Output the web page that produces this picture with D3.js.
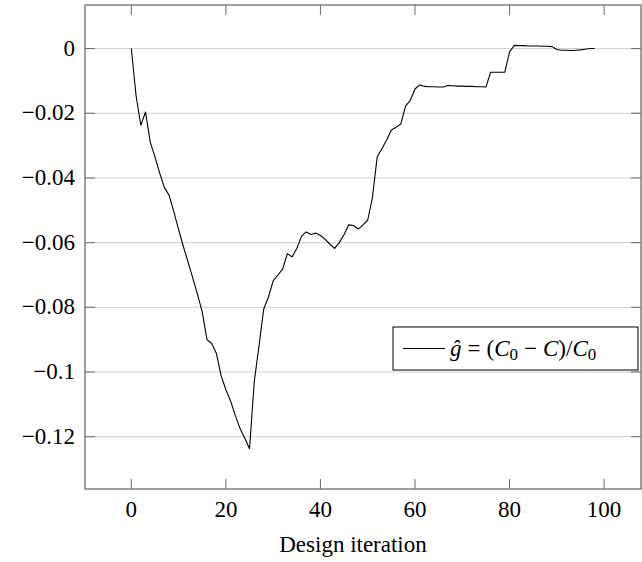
<!DOCTYPE html>
<html>
<head>
<meta charset="utf-8">
<script src="https://cdn.jsdelivr.net/npm/d3@7"></script>
<style>
  html, body { margin: 0; padding: 0; background: #fff; }
  svg { display: block; }
</style>
</head>
<body>
<svg id="chart" width="642" height="562" font-family="'Liberation Serif', 'DejaVu Serif', serif"></svg>
<script>
// ---- data ----
const iterations = d3.range(0, 99);
const gHat = [
  0, -0.0145, -0.0237, -0.0196, -0.0289, -0.0335, -0.0385, -0.0430, -0.0454, -0.0505,
  -0.0560, -0.0612, -0.0660, -0.0710, -0.0760, -0.0815, -0.0900, -0.0912, -0.0943, -0.1012,
  -0.1055, -0.1090, -0.1135, -0.1175, -0.1205, -0.1237, -0.1030, -0.0920, -0.0805, -0.0768,
  -0.0718, -0.0700, -0.0682, -0.0634, -0.0644, -0.0618, -0.0580, -0.0567, -0.0575, -0.0570,
  -0.0578, -0.0590, -0.0605, -0.0618, -0.0600, -0.0575, -0.0545, -0.0547, -0.0558, -0.0545,
  -0.0530, -0.0460, -0.0335, -0.0310, -0.0283, -0.0252, -0.0243, -0.0233, -0.0178, -0.0160,
  -0.0125, -0.0112, -0.0117, -0.0118, -0.0118, -0.0119, -0.0119, -0.0114, -0.0115, -0.0116,
  -0.0116, -0.0117, -0.0117, -0.0118, -0.0118, -0.0119, -0.0073, -0.0073, -0.0073, -0.0073,
  -0.0010, 0.0010, 0.0009, 0.0009, 0.0008, 0.0008, 0.0008, 0.0007, 0.0007, 0.0006,
  -0.0003, -0.0005, -0.0005, -0.0006, -0.0005, -0.0004, -0.0002, 0.0000, 0.0000
];
const xTicks = [0, 20, 40, 60, 80, 100];
const yTicks = [0, -0.02, -0.04, -0.06, -0.08, -0.1, -0.12];
const yTickLabels = ["0", "\u22120.02", "\u22120.04", "\u22120.06", "\u22120.08", "\u22120.1", "\u22120.12"];
const xLabel = "Design iteration";

// ---- layout ----
const L = 85, R = 641, T = 5, B = 489;
const svg = d3.select("#chart");

const xMin = d3.min(iterations), xMax = d3.max(iterations);
const xPad = (xMax - xMin) * 0.1;
const yMin = d3.min(gHat), yMax = d3.max(gHat);
const yPad = (yMax - yMin) * 0.1;

const x = d3.scaleLinear().domain([xMin - xPad, xMax + xPad]).range([L, R]);
const y = d3.scaleLinear().domain([yMin - yPad, yMax + yPad]).range([B, T]);

const tickLen = 10;
const axisColor = "#6b6b6b";

// grid
svg.append("g").selectAll("line").data(yTicks).join("line")
  .attr("x1", L).attr("x2", R)
  .attr("y1", d => y(d)).attr("y2", d => y(d))
  .attr("stroke", "#cfcfcf").attr("stroke-width", 1);

// ticks (inside, on all four sides)
const tg = svg.append("g").attr("stroke", axisColor).attr("stroke-width", 1);
xTicks.forEach(t => {
  tg.append("line").attr("x1", x(t)).attr("x2", x(t)).attr("y1", B).attr("y2", B - tickLen);
  tg.append("line").attr("x1", x(t)).attr("x2", x(t)).attr("y1", T).attr("y2", T + tickLen);
});
yTicks.forEach(t => {
  tg.append("line").attr("x1", L).attr("x2", L + tickLen).attr("y1", y(t)).attr("y2", y(t));
  tg.append("line").attr("x1", R).attr("x2", R - tickLen).attr("y1", y(t)).attr("y2", y(t));
});

// data line
const line = d3.line().x((d, i) => x(iterations[i])).y(d => y(d));
svg.append("path").datum(gHat)
  .attr("d", line).attr("fill", "none")
  .attr("stroke", "#000").attr("stroke-width", 1.1).attr("stroke-linejoin", "round");

// frame
svg.append("rect").attr("x", L).attr("y", T).attr("width", R - L).attr("height", B - T)
  .attr("fill", "none").attr("stroke", axisColor).attr("stroke-width", 1.3);

// tick labels
const fs = 23;
svg.append("g").selectAll("text").data(xTicks).join("text")
  .attr("x", d => x(d)).attr("y", B + 28)
  .attr("text-anchor", "middle").attr("font-size", fs)
  .text(d => d);
svg.append("g").selectAll("text").data(yTicks).join("text")
  .attr("x", L - 10).attr("y", d => y(d) + 7)
  .attr("text-anchor", "end").attr("font-size", fs)
  .text((d, i) => yTickLabels[i]);

// axis label
svg.append("text").attr("x", (L + R) / 2 - 10).attr("y", B + 63)
  .attr("text-anchor", "middle").attr("font-size", fs).text(xLabel);

// legend
const lg = svg.append("g");
const lx = 393, ly = 327, lw = 245, lh = 43;
lg.append("rect").attr("x", lx).attr("y", ly).attr("width", lw).attr("height", lh)
  .attr("fill", "#fff").attr("stroke", "#000").attr("stroke-width", 1);
lg.append("line").attr("x1", lx + 10).attr("x2", lx + 52)
  .attr("y1", ly + lh / 2).attr("y2", ly + lh / 2)
  .attr("stroke", "#000").attr("stroke-width", 1.1);
const lt = lg.append("text").attr("x", lx + 57).attr("y", ly + lh / 2 + 7).attr("font-size", fs);
lt.append("tspan").attr("font-style", "italic").text("\u011D");
lt.append("tspan").attr("dx", 6).text("=");
lt.append("tspan").attr("dx", 6).text("(");
lt.append("tspan").attr("font-style", "italic").text("C");
lt.append("tspan").attr("font-size", 17).attr("dy", 4).text("0");
lt.append("tspan").attr("dy", -4).attr("dx", 6).text("\u2212");
lt.append("tspan").attr("dx", 6).attr("font-style", "italic").text("C");
lt.append("tspan").text(")/");
lt.append("tspan").attr("font-style", "italic").text("C");
lt.append("tspan").attr("font-size", 17).attr("dy", 4).text("0");
</script>
</body>
</html>
